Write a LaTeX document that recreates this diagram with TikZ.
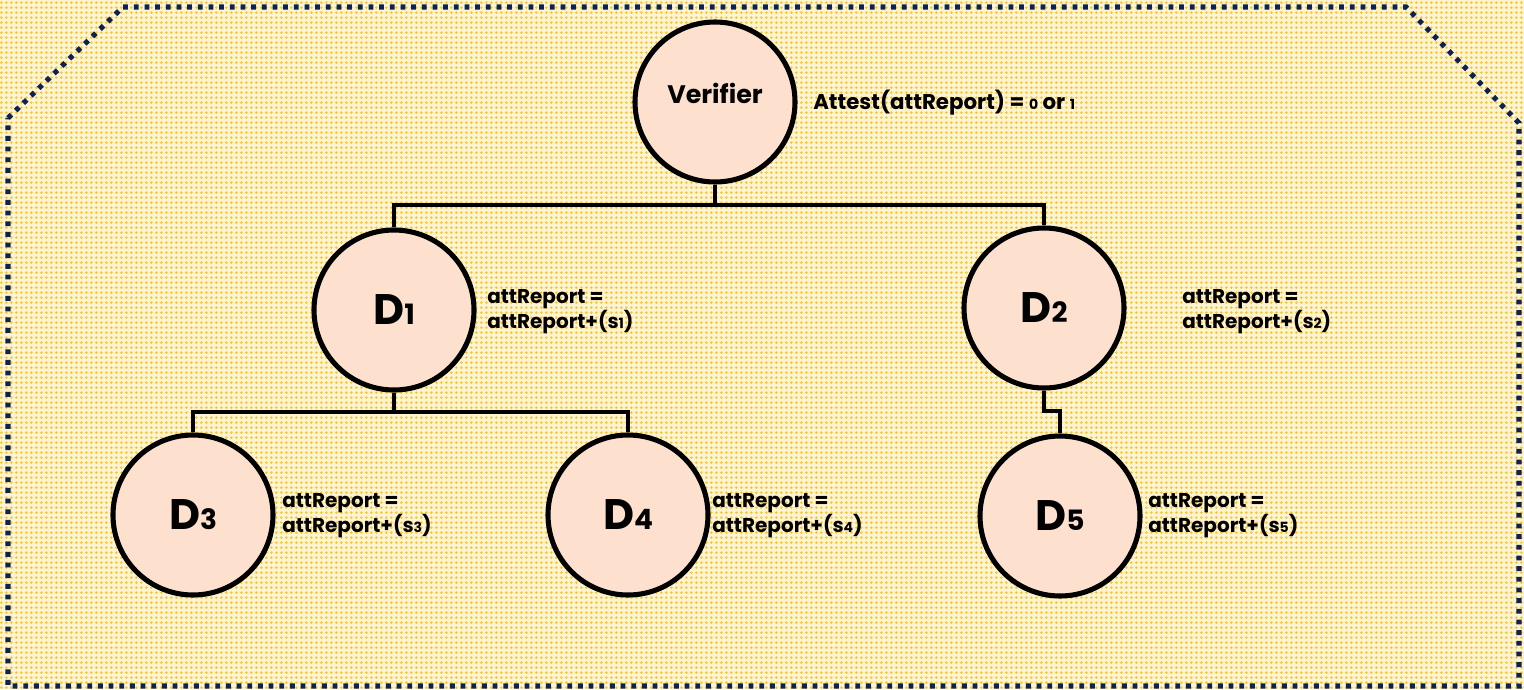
\documentclass[tikz,border=0pt]{standalone}
\usepackage{fontspec}
\setmainfont{Poppins}
\usetikzlibrary{patterns.meta}
\definecolor{peach}{RGB}{253,224,206}
\definecolor{navy}{RGB}{12,34,82}
\definecolor{bgpale}{RGB}{255,244,210}
\definecolor{bgdot}{RGB}{249,196,45}
\tikzdeclarepattern{name=ydots, type=uncolored, bounding box={(0pt,0pt) and (4pt,4pt)}, tile size={(4pt,4pt)}, code={\fill (2pt,2pt) circle (1.25pt);}}
\newcommand\smd[1]{{\fontsize{10.5}{12}\selectfont #1}}
\newcommand\bigsub[1]{{\fontsize{21}{24}\selectfont #1}}
\tikzset{
  dev/.style={circle, draw=black, line width=3.8pt, fill=peach, minimum size=120pt, inner sep=0pt, font=\bfseries\fontsize{32}{36}\selectfont},
  ver/.style={dev, font=\bfseries\fontsize{19}{22}\selectfont},
  wire/.style={draw=black, line width=3.4pt},
  lbl/.style={anchor=west, align=left, inner sep=0pt, font=\bfseries\fontsize{15}{16.8}\selectfont},
  frame/.style={draw=navy, line width=3.8pt, dash pattern=on 3.6pt off 4.4pt}
}
\begin{document}
\begin{tikzpicture}[x=0.75pt,y=-0.75pt]
\useasboundingbox (0,0) rectangle (1524,689);
\fill[bgpale] (0,0) rectangle (1524,689);
\fill[pattern={ydots}, pattern color=bgdot] (0,0) rectangle (1524,689);
\draw[frame] (8,118) -- (123,7) -- (1406,7) -- (1519,123) -- (1519,686) -- (8,686) -- cycle;

\node[ver] (V) at (715,102) {\raisebox{1.2ex}{Verifier}};
\node[dev] (D1) at (394,310) {D\bigsub{1}};
\node[dev] (D2) at (1044,308) {D\bigsub{2}};
\node[dev] (D3) at (193,515) {D\bigsub{3}};
\node[dev] (D4) at (628,515) {D\bigsub{4}};
\node[dev] (D5) at (1060,516) {D\bigsub{5}};

\coordinate (b1) at (715,205);
\coordinate (b2) at (394,412);
\coordinate (b3) at (1044,411);
\draw[wire] (V.south) -- (b1);
\draw[wire] (D1.north) |- (b1) -| (D2.north);
\draw[wire] (D1.south) -- (b2);
\draw[wire] (D3.north) |- (b2) -| (D4.north);
\draw[wire] (D2.south) -- (b3) -| (D5.north);

\node[lbl, font=\bfseries\fontsize{16}{19}\selectfont] (LV) at (813,103) {Attest(attReport) = \smd{0} or \smd{1}};
\node[lbl] (L1) at (487,312) {attReport =\\attReport+(s\smd{1})};
\node[lbl] (L2) at (1182,312) {attReport =\\attReport+(s\smd{2})};
\node[lbl] (L3) at (282,516) {attReport =\\attReport+(s\smd{3})};
\node[lbl] (L4) at (712,516) {attReport =\\attReport+(s\smd{4})};
\node[lbl] (L5) at (1148,516) {attReport =\\attReport+(s\smd{5})};
\end{tikzpicture}
\end{document}
